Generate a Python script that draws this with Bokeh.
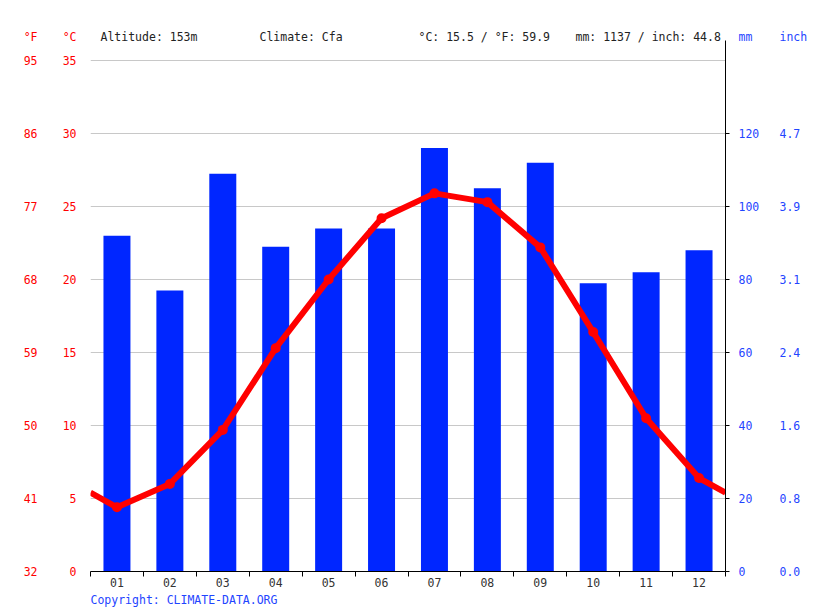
from bokeh.plotting import figure
from bokeh.models import (ColumnDataSource, LinearAxis, Range1d, FixedTicker, Label, Title)
from bokeh.embed import file_html
from bokeh.resources import INLINE

# monthly climate data
months = ["01", "02", "03", "04", "05", "06", "07", "08", "09", "10", "11", "12"]
temp_c = [4.4, 6.0, 9.7, 15.3, 20.0, 24.2, 25.9, 25.3, 22.2, 16.4, 10.5, 6.4]
precip_mm = [92, 77, 109, 89, 94, 94, 116, 105, 112, 79, 82, 88]
edge_temp = [5.4, 5.4]  # where the line leaves the plot on the left / right

c_ticks = [0, 5, 10, 15, 20, 25, 30, 35]
f_labels = ["32", "41", "50", "59", "68", "77", "86", "95"]
mm_ticks = [0, 20, 40, 60, 80, 100, 120]
inch_labels = ["0.0", "0.8", "1.6", "2.4", "3.1", "3.9", "4.7"]

# header texts, x offset from the left edge of the plot area
header = [("Altitude: 153m", 10), ("Climate: Cfa", 169),
          ("°C: 15.5 / °F: 59.9", 328), ("mm: 1137 / inch: 44.8", 485)]

FONT = "DejaVu Sans Mono"
FS = "11.5px"
RED = "#ff0000"
BLUE = "#0026ff"
TXT_BLUE = "#1f45ff"

x = list(range(1, 13))
c_top = 37.33      # top of the drawing area, in °C
c_axis_top = 36.37  # where the black right axis line stops
c_head = 36.64     # height of the unit names row

p = figure(frame_width=635, frame_height=545, x_range=Range1d(0.5, 12.5),
           y_range=Range1d(0, c_top), output_backend="svg", toolbar_location=None,
           min_border_left=90, min_border_right=90, min_border_top=26, min_border_bottom=40)
p.outline_line_color = None
p.background_fill_color = "white"
p.extra_y_ranges = {"mm": Range1d(0, c_top * 4)}

# bars
bars = ColumnDataSource(dict(x=x, mm=precip_mm))
p.vbar(x="x", top="mm", width=0.51, source=bars, y_range_name="mm",
       fill_color=BLUE, line_color=None)

# temperature line
line_x = [0.5] + x + [12.5]
line_y = [edge_temp[0]] + temp_c + [edge_temp[1]]
p.line(line_x, line_y, line_color=RED, line_width=6, line_join="round")
p.scatter(x, temp_c, size=10, fill_color=RED, line_color=None)

# grid
p.xgrid.visible = False
p.ygrid.ticker = FixedTicker(ticks=c_ticks)
p.ygrid.grid_line_color = "#c8c8c8"


def label_axis(axis, standoff, color):
    axis.axis_line_color = None
    axis.major_tick_line_color = None
    axis.minor_tick_line_color = None
    axis.major_tick_out = 0
    axis.major_label_standoff = standoff
    axis.major_label_text_color = color
    axis.major_label_text_font = FONT
    axis.major_label_text_font_size = FS


# °C axis (unit name as an extra tick on top)
ya = p.yaxis[0]
ya.ticker = FixedTicker(ticks=c_ticks + [c_head])
ya.major_label_overrides = {c_head: "°C"}
label_axis(ya, 14, RED)

# °F axis
fa = LinearAxis(ticker=FixedTicker(ticks=c_ticks + [c_head]),
                major_label_overrides=dict(zip(c_ticks + [c_head], f_labels + ["°F"])))
label_axis(fa, 22, RED)
p.add_layout(fa, "left")

# black right axis line with tick marks only
la = LinearAxis(y_range_name="mm", ticker=FixedTicker(ticks=mm_ticks),
                major_label_overrides={t: "" for t in mm_ticks}, bounds=(0, c_axis_top * 4))
la.axis_line_color = "black"
la.major_tick_line_color = "black"
la.major_tick_out = 4
la.major_tick_in = 0
la.minor_tick_line_color = None
la.major_label_standoff = 0
p.add_layout(la, "right")

# mm labels
ma = LinearAxis(y_range_name="mm", ticker=FixedTicker(ticks=mm_ticks + [c_head * 4]),
                major_label_overrides={c_head * 4: "mm"})
label_axis(ma, 9, TXT_BLUE)
p.add_layout(ma, "right")

# inch labels
ia = LinearAxis(y_range_name="mm", ticker=FixedTicker(ticks=mm_ticks + [c_head * 4]),
                major_label_overrides=dict(zip(mm_ticks + [c_head * 4], inch_labels + ["inch"])))
label_axis(ia, 17, TXT_BLUE)
p.add_layout(ia, "right")

# month axis, ticks between months
xa = p.xaxis[0]
xa.ticker = FixedTicker(ticks=x, minor_ticks=[i + 0.5 for i in range(13)])
xa.major_label_overrides = dict(zip(x, months))
xa.axis_line_color = "black"
xa.major_tick_line_color = None
xa.major_tick_out = 0
xa.minor_tick_line_color = "black"
xa.minor_tick_out = 5
xa.minor_tick_in = 0
xa.major_label_standoff = 1
xa.major_label_text_color = "#333333"
xa.major_label_text_font = FONT
xa.major_label_text_font_size = FS

# header row inside the drawing area
for t, sx in header:
    p.add_layout(Label(x=sx, y=535, x_units="screen", y_units="screen", text=t,
                       text_font=FONT, text_font_size=FS, text_color="#222222",
                       text_baseline="middle"))

p.add_layout(Title(text="Copyright: CLIMATE-DATA.ORG", align="left", standoff=2,
                   text_font=FONT, text_font_size=FS, text_font_style="normal",
                   text_color=TXT_BLUE), "below")

open("out.html", "w").write(file_html(p, INLINE))
